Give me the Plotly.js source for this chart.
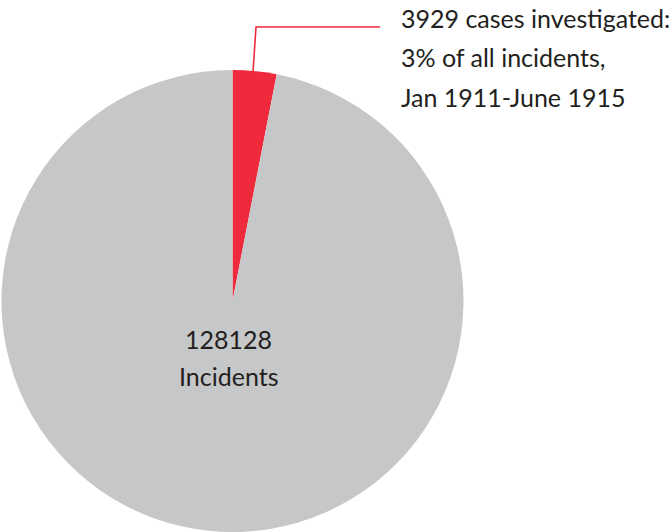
<!DOCTYPE html>
<html>
<head>
<meta charset="utf-8">
<script src="https://cdn.plot.ly/plotly-3.0.1.min.js"></script>
<style>html,body{margin:0;padding:0;background:#fff;}#chart{width:670px;height:532px;}</style>
</head>
<body>
<div id="chart"></div>
<script>
const categories = ["Cases investigated", "Not investigated"];
const totalIncidents = 128128;
const investigated = 3929;
const values = [investigated, totalIncidents - investigated];
const colors = ["#EE2A3C", "#C6C7C8"];
const calloutLines = ["3929 cases investigated:", "3% of all incidents,", "Jan 1911-June 1915"];
const centerLines = [String(totalIncidents), "Incidents"];

const W = 670, H = 532;
const px = x => x / W;
const py = y => 1 - y / H;
const font = {family: "Lato, sans-serif", size: 25, color: "#231F20"};

const annotations = [];
const calloutY = [18, 57, 97];
calloutLines.forEach((t, i) => annotations.push({
  text: t, xref: "paper", yref: "paper", x: px(399), y: py(calloutY[i]),
  xanchor: "left", yanchor: "middle", showarrow: false, font: font
}));
const centerY = [339, 376];
centerLines.forEach((t, i) => annotations.push({
  text: t, xref: "paper", yref: "paper", x: px(229), y: py(centerY[i]),
  xanchor: "center", yanchor: "middle", showarrow: false, font: font
}));

const data = [{
  type: "pie",
  labels: categories,
  values: values,
  marker: {colors: colors, line: {width: 0}},
  sort: false,
  direction: "clockwise",
  rotation: 0,
  textinfo: "none",
  hoverinfo: "label+value",
  domain: {x: [px(1), px(464)], y: [py(532), py(70)]}
}];

const layout = {
  width: W, height: H,
  margin: {l: 0, r: 0, t: 0, b: 0},
  paper_bgcolor: "#fff",
  showlegend: false,
  annotations: annotations,
  shapes: [{
    type: "path", xref: "paper", yref: "paper",
    path: `M ${px(253)} ${py(72)} L ${px(256)} ${py(27)} L ${px(380)} ${py(27)}`,
    line: {color: "#EE2A3C", width: 1.6}
  }]
};
Plotly.newPlot("chart", data, layout, {displayModeBar: false, staticPlot: true});
</script>
</body>
</html>
